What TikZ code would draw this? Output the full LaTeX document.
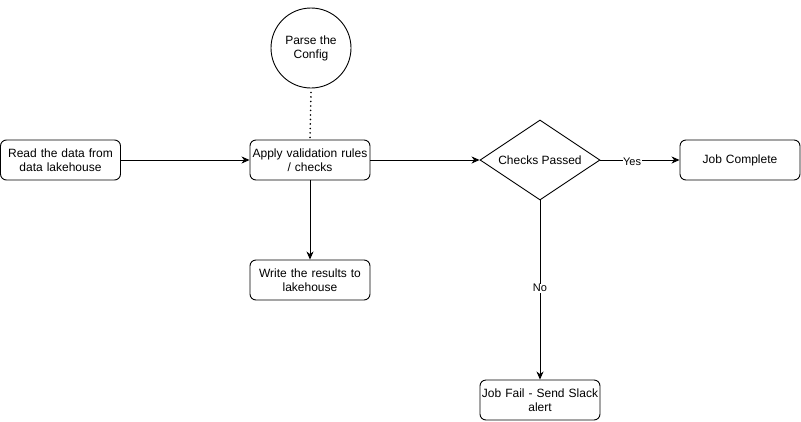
\documentclass[tikz,border=0pt]{standalone}
\usepackage{fontspec}
\setmainfont{Liberation Sans}
\usetikzlibrary{shapes.geometric,arrows.meta}
\begin{document}
\begin{tikzpicture}[x=1pt,y=-1pt,
  font=\fontsize{12}{14}\selectfont,
  box/.style={draw, line width=0.9pt, rounded corners=6pt, minimum width=120pt, minimum height=40pt, inner sep=1pt, align=center, text width=118pt},
  circ/.style={draw, line width=0.9pt, circle, minimum size=80pt, inner sep=0pt, align=center},
  dec/.style={draw, line width=0.9pt, diamond, aspect=1.5, minimum width=120pt, minimum height=80pt, inner sep=0pt, align=center},
  arr/.style={line width=0.9pt, -{Stealth[length=8pt,width=7pt,inset=2.5pt]}},
  lbl/.style={fill=white, inner sep=0.5pt, font=\fontsize{11}{13}\selectfont}
]
\useasboundingbox (0,0) rectangle (801,421);
\node[box] (read) at (60.5,160) {Read the data from\\data lakehouse};
\node[box] (apply) at (310,160) {Apply validation rules\\/ checks};
\node[circ] (parse) at (311,48) {Parse the\\Config};
\node[dec] (check) at (540,160) {Checks Passed};
\node[box] (done) at (740,160) {Job Complete};
\node[box] (write) at (310,280) {Write the results to\\lakehouse};
\node[box] (fail) at (540,400) {Job Fail - Send Slack\\alert};

\draw[arr] (read) -- (apply);
\draw[line width=1.8pt, line cap=round, dash pattern=on 0pt off 4.5pt] (parse.south) ++(0,4) -- (apply.north);
\draw[arr] (apply) -- (check);
\draw[arr] (check) -- node[lbl, pos=0.4, yshift=-2pt] {Yes} (done);
\draw[arr] (apply) -- (write);
\draw[arr] (check) -- node[lbl, pos=0.49] {No} (fail);
\end{tikzpicture}
\end{document}
